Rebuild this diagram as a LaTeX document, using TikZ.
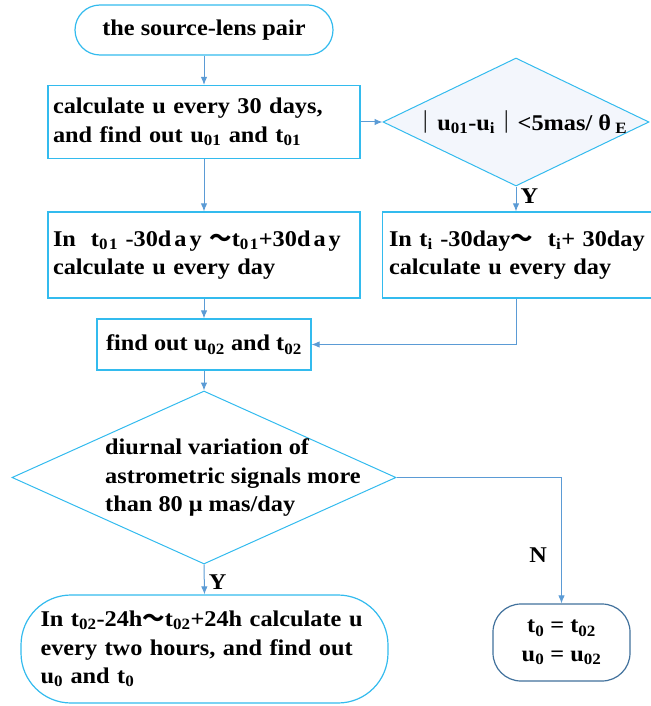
\documentclass[tikz,border=0pt]{standalone}
\usepackage{fontspec}
\setmainfont{Liberation Serif}[FakeStretch=1.08]
\newfontfamily\cjk{Noto Sans CJK SC}
\usetikzlibrary{shapes.geometric, arrows.meta}

\definecolor{boxline}{RGB}{51,187,238}
\definecolor{flowline}{RGB}{91,155,213}
\definecolor{endline}{RGB}{65,113,156}
\definecolor{condfill}{RGB}{243,246,252}
\newcommand{\lo}[1]{\textsubscript{#1}}
\newcommand{\wt}{{\cjk ～}}
\newcommand{\vb}{{\cjk ｜}}

\begin{document}
\begin{tikzpicture}[
  x=1pt, y=-1pt,
  txt/.style={font=\fontsize{22.5}{28.5}\selectfont\bfseries, inner sep=0pt},
  proc/.style={txt, rectangle, draw=boxline, line width=1.2pt, fill=white},
  term/.style={proc, rounded corners=#1},
  cond/.style={diamond, draw=boxline, line width=1pt, inner sep=0pt},
  flow/.style={draw=flowline, line width=1pt, -{Latex[length=8pt,width=6.5pt]}},
]
  \useasboundingbox (0,0) rectangle (650,706);

  % 上半部分：粗算与细算
  \node[term=25pt, minimum width=258pt, minimum height=50pt] (start) at (204,30) {the source-lens pair};
  \node[proc, minimum width=312pt, minimum height=73pt, text width=302pt, align=left] (calc30) at (204,122)
    {calculate u every 30 days,\\ and find out u\lo{01} and t\lo{01}};
  \node[cond, fill=condfill, minimum width=266pt, minimum height=128pt] (check) at (516,122) {};
  \node[txt] (checktxt) at (521,122) {\vb u\lo{01}-u\lo{i}\vb<5mas/ θ\lo{\ E}};
  \node[proc, minimum width=312pt, minimum height=86pt, text width=302pt, align=left] (win1) at (204,255)
    {In\ \ t\lo{0\hspace{1.5pt}1} -30d\hspace{3pt}a\hspace{3pt}y \wt t\lo{0\hspace{1.5pt}1}+30d\hspace{3pt}a\hspace{3pt}y\\ calculate u every day};
  \node[proc, minimum width=270pt, minimum height=86pt, text width=257pt, align=left] (win2) at (517.5,255)
    {In t\lo{i} -30day\wt\ \ t\lo{i}+ 30day\\ calculate u every day};
  \node[proc, minimum width=214pt, minimum height=51pt] (find02) at (204,344.5) {find out u\lo{02} and t\lo{02}};

  % 下半部分：日变化判断
  \node[cond, minimum width=384pt, minimum height=173pt] (diurnal) at (204,477.5) {};
  \node[txt, align=left, anchor=west] (diurnaltxt) at (105,477.5)
    {diurnal variation of\\ astrometric signals more\\ than 80 μ mas/day};
  \node[term=50pt, minimum width=367pt, minimum height=108pt, text width=328pt, align=left] (hours) at (204.5,649)
    {In t\lo{02}-24h\wt t\lo{02}+24h calculate u\\ every two hours, and find out\\ u\lo{0} and t\lo{0}};
  \node[term=28pt, draw=endline, minimum width=137pt, minimum height=77pt, align=center] (keep) at (561.5,642.5)
    {t\lo{0} = t\lo{02}\\ u\lo{0} = u\lo{02}};

  \draw[flow] (start) -- (calc30);
  \draw[flow] (calc30) -- (check);
  \draw[flow] (check.south) -- node[txt, right=4pt, pos=0.4] {Y} (check.south |- win2.north);
  \draw[flow] (calc30) -- (win1);
  \draw[flow] (win1) -- (find02);
  \draw[flow] (check.south |- win2.south) |- (find02.east);
  \draw[flow] (find02) -- (diurnal);
  \draw[flow] (diurnal.east) -| node[txt, left=14pt, pos=0.81] {N} (keep.north);
  \draw[flow] (diurnal.south) -- node[txt, right=4pt, pos=0.58] {Y} (hours.north);
\end{tikzpicture}
\end{document}
